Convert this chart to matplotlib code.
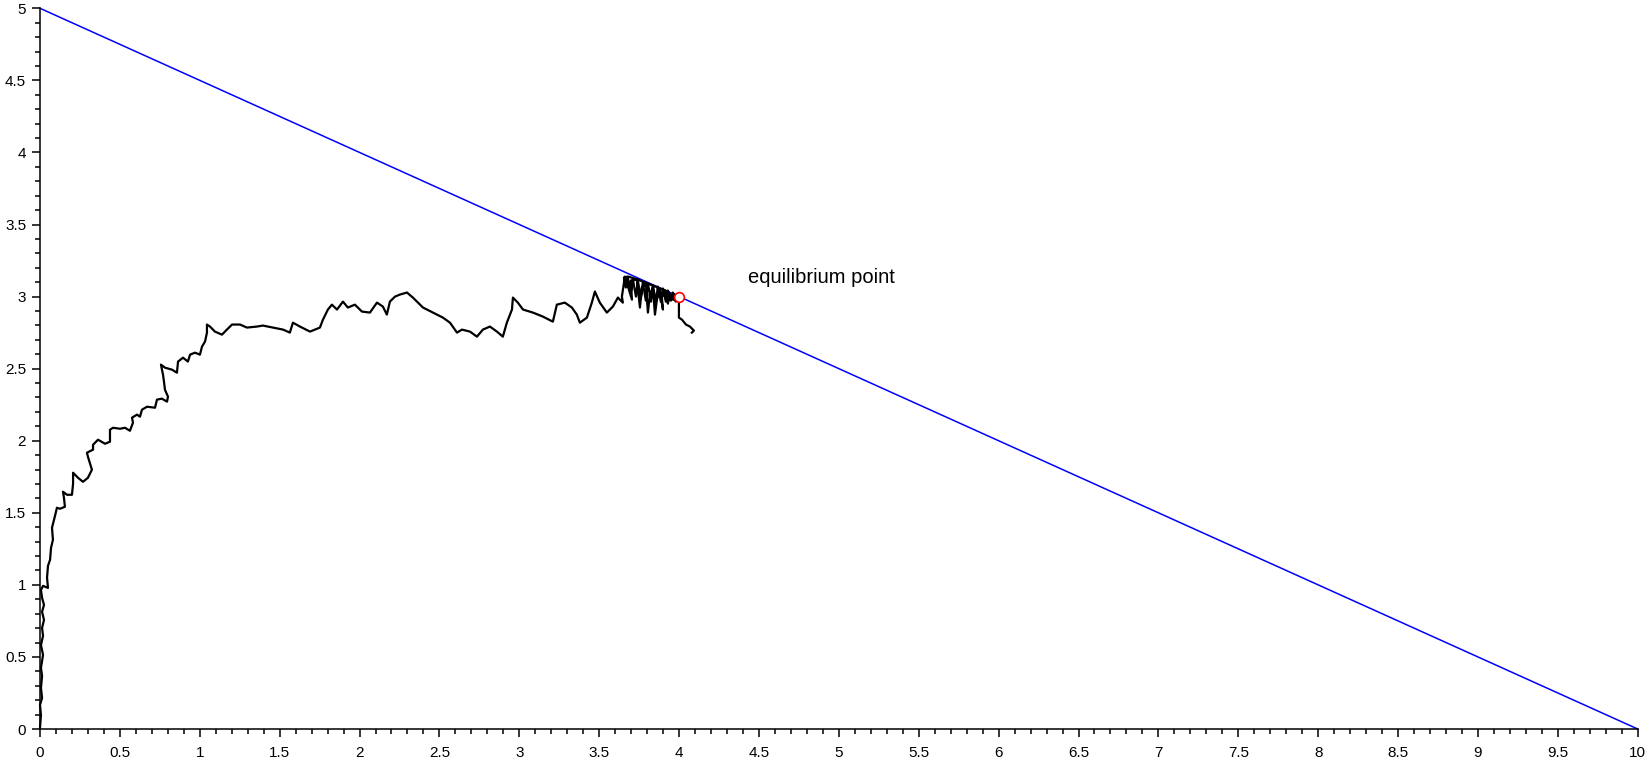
import numpy as np
import matplotlib.pyplot as plt
from matplotlib.ticker import MultipleLocator

# ------------------------------------------------------------------
# Data
# ------------------------------------------------------------------
# boundary line x + 2y = 10
line_x = [0.0, 10.0]
line_y = [5.0, 0.0]

# equilibrium point
eq_x = 4.0
eq_y = 3.0
eq_label = 'equilibrium point'

# traced trajectory of the simulated path
traj_x = [0.000, 0.006, 0.000, 0.013, 0.006, 0.013, 0.006, 0.019, 0.006, 0.019,
          0.013, 0.025, 0.013, 0.025, 0.013, 0.006, 0.019, 0.050, 0.044, 0.050,
          0.063, 0.069, 0.081, 0.075, 0.088, 0.094, 0.106, 0.125, 0.156, 0.150,
          0.144, 0.169, 0.200, 0.207, 0.207, 0.238, 0.269, 0.300, 0.325, 0.300,
          0.294, 0.332, 0.332, 0.363, 0.407, 0.438, 0.438, 0.457, 0.501, 0.532,
          0.563, 0.582, 0.576, 0.607, 0.626, 0.638, 0.670, 0.720, 0.732, 0.763,
          0.795, 0.801, 0.782, 0.776, 0.770, 0.757, 0.782, 0.826, 0.857, 0.864,
          0.895, 0.926, 0.939, 0.970, 1.001, 1.014, 1.033, 1.045, 1.045, 1.064,
          1.095, 1.139, 1.170, 1.202, 1.252, 1.295, 1.358, 1.395, 1.458, 1.521,
          1.564, 1.583, 1.627, 1.690, 1.752, 1.771, 1.802, 1.827, 1.859, 1.896,
          1.927, 1.971, 2.015, 2.065, 2.109, 2.146, 2.171, 2.190, 2.222, 2.253,
          2.297, 2.334, 2.397, 2.459, 2.522, 2.566, 2.610, 2.641, 2.691, 2.735,
          2.772, 2.816, 2.860, 2.897, 2.922, 2.954, 2.960, 2.991, 3.023, 3.085,
          3.148, 3.210, 3.235, 3.285, 3.329, 3.360, 3.379, 3.423, 3.454, 3.473,
          3.504, 3.548, 3.586, 3.617, 3.648, 3.642, 3.661, 3.705, 3.698, 3.736,
          3.755, 3.767, 3.792, 3.805, 3.817, 3.836, 3.849, 3.861, 3.880, 3.899,
          3.892, 3.917, 3.930, 3.942, 3.961, 3.974, 3.980, 3.930, 3.867, 3.805,
          3.742, 3.680,
          3.655, 3.667, 3.680, 3.698, 3.711, 3.730, 3.742, 3.761, 3.773, 3.792,
          3.805, 3.824, 3.836, 3.855, 3.867, 3.886, 3.899, 3.917, 3.930, 3.949,
          3.961, 3.980,
          3.999, 3.999, 3.999, 4.018, 4.043, 4.068, 4.093, 4.080]
traj_y = [0.007, 0.097, 0.167, 0.215, 0.285, 0.368, 0.424, 0.514, 0.583, 0.646,
          0.701, 0.757, 0.813, 0.861, 0.910, 0.965, 0.993, 0.979, 1.049, 1.132,
          1.174, 1.257, 1.313, 1.396, 1.451, 1.479, 1.535, 1.528, 1.542, 1.604,
          1.646, 1.625, 1.625, 1.701, 1.778, 1.743, 1.715, 1.743, 1.799, 1.889,
          1.917, 1.938, 1.972, 2.007, 1.979, 1.993, 2.076, 2.090, 2.083, 2.090,
          2.069, 2.125, 2.160, 2.181, 2.167, 2.215, 2.236, 2.229, 2.285, 2.292,
          2.271, 2.306, 2.354, 2.410, 2.458, 2.528, 2.507, 2.493, 2.472, 2.549,
          2.576, 2.549, 2.597, 2.611, 2.597, 2.653, 2.688, 2.750, 2.806, 2.792,
          2.757, 2.736, 2.771, 2.806, 2.806, 2.785, 2.792, 2.799, 2.785, 2.771,
          2.750, 2.819, 2.792, 2.757, 2.785, 2.840, 2.910, 2.944, 2.910, 2.965,
          2.924, 2.944, 2.896, 2.889, 2.958, 2.931, 2.875, 2.965, 3.000, 3.014,
          3.028, 2.993, 2.924, 2.889, 2.854, 2.819, 2.750, 2.771, 2.757, 2.722,
          2.771, 2.792, 2.757, 2.722, 2.819, 2.910, 2.993, 2.958, 2.910, 2.889,
          2.861, 2.826, 2.944, 2.958, 2.924, 2.875, 2.819, 2.854, 2.958, 3.035,
          2.958, 2.889, 2.931, 2.993, 2.958, 3.000, 3.139, 2.979, 3.111, 3.118,
          2.924, 3.063, 3.090, 2.889, 3.014, 3.063, 2.875, 2.979, 3.042, 2.910,
          3.000, 3.028, 2.951, 3.007, 2.979, 3.014, 2.965, 3.035, 3.063, 3.090,
          3.118, 3.139,
          3.132, 3.063, 3.125, 3.028, 3.118, 3.000, 3.111, 2.986, 3.097, 2.972,
          3.090, 2.965, 3.076, 2.965, 3.069, 2.965, 3.056, 2.965, 3.042, 2.972,
          3.028, 2.986,
          2.993, 2.938, 2.854, 2.840, 2.806, 2.792, 2.764, 2.750]

#------------------------------------------------------------------------
# Plot
#------------------------------------------------------------------------
plt.rcParams['font.family'] = ['Liberation Sans', 'DejaVu Sans']

fig = plt.figure(figsize=(16.5, 7.64), dpi=100)
ax = fig.add_axes([0.02424, 0.0458, 0.96831, 0.94334])

ax.plot(line_x, line_y, color='#0000ff', linewidth=1.1, clip_on=False)
ax.plot(traj_x, traj_y, color='black', linewidth=1.6, clip_on=False)
ax.plot([eq_x], [eq_y], 'o', markerfacecolor='white', markeredgecolor='#ff0000',
        markersize=7, markeredgewidth=1.2)
ax.text(4.43, 3.097, eq_label, fontsize=14.5, va='baseline', ha='left')

ax.set_xlim(0, 10)
ax.set_ylim(0, 5)
ax.xaxis.set_major_locator(MultipleLocator(0.5))
ax.xaxis.set_minor_locator(MultipleLocator(0.1))
ax.yaxis.set_major_locator(MultipleLocator(0.5))
ax.yaxis.set_minor_locator(MultipleLocator(0.1))
ax.xaxis.set_major_formatter(plt.FuncFormatter(lambda v, p: ('%g' % v)))
ax.yaxis.set_major_formatter(plt.FuncFormatter(lambda v, p: ('%g' % v)))

for s in ['top', 'right']:
    ax.spines[s].set_visible(False)
for s in ['left', 'bottom']:
    ax.spines[s].set_linewidth(1.1)

ax.tick_params(which='major', length=6, width=1.1, labelsize=11)
ax.tick_params(axis='x', which='major', pad=6)
ax.tick_params(axis='y', which='major', pad=4)
ax.tick_params(which='minor', length=3.5, width=1.1)

plt.savefig('out.png', dpi=100)
